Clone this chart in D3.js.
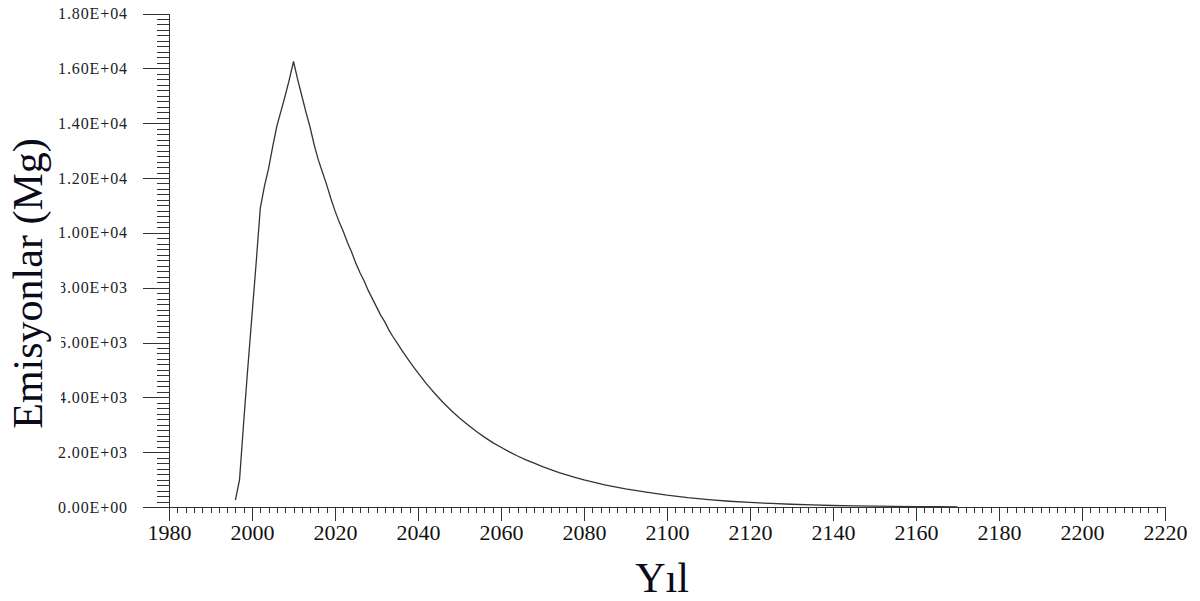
<!DOCTYPE html>
<html>
<head>
<meta charset="utf-8">
<script src="https://cdn.jsdelivr.net/npm/d3@7"></script>
<style>
  body { margin: 0; background: #fff; }
  svg { display: block; }
</style>
</head>
<body>
<div class="chart"></div>
<script>
const years = [
  1996, 1997, 1998, 1999, 2000, 2001, 2002, 2003, 2004, 2005, 2006, 2007, 2008, 2009,
  2010, 2011, 2012, 2013, 2014, 2015, 2016, 2017, 2018, 2019, 2020, 2021, 2022, 2023,
  2024, 2025, 2026, 2027, 2028, 2029, 2030, 2031, 2032, 2033, 2034, 2035, 2036, 2037,
  2038, 2039, 2040, 2042, 2044, 2046, 2048, 2050, 2052, 2054, 2056, 2058, 2060, 2062,
  2064, 2066, 2068, 2070, 2072, 2074, 2076, 2078, 2080, 2085, 2090, 2095, 2100, 2105,
  2110, 2115, 2120, 2125, 2130, 2135, 2140, 2145, 2150, 2155, 2160, 2165, 2170
];
const emissions = [
  250, 1000, 3100, 5100, 7000, 8900, 10900, 11700, 12350, 13150, 13900, 14450, 15000, 15600,
  16250, 15600, 15000, 14400, 13850, 13200, 12650, 12200, 11750, 11250, 10800, 10400, 10050, 9650,
  9300, 8900, 8550, 8250, 7900, 7600, 7300, 7000, 6750, 6450, 6200, 5980, 5740, 5520,
  5300, 5090, 4890, 4500, 4150, 3820, 3520, 3250, 3000, 2760, 2550, 2350, 2180, 2010,
  1860, 1720, 1600, 1470, 1360, 1250, 1160, 1070, 990, 810, 660, 540, 430, 340,
  270, 210, 165, 130, 100, 75, 55, 40, 30, 22, 16, 12, 8
];
const xTickValues = [1980, 2000, 2020, 2040, 2060, 2080, 2100, 2120, 2140, 2160, 2180, 2200, 2220];
const yTickValues = [0, 2000, 4000, 6000, 8000, 10000, 12000, 14000, 16000, 18000];
const yTickLabels = ['0.00E+00', '2.00E+03', '4.00E+03', '6.00E+03', '8.00E+03',
  '1.00E+04', '1.20E+04', '1.40E+04', '1.60E+04', '1.80E+04'];
const xLabel = 'Yıl';
const yLabel = 'Emisyonlar (Mg)';

const width = 1200;
const height = 601;
const plotLeft = 169;
const plotRight = 1165;
const plotTop = 13.5;
const plotBottom = 507;

const x = d3.scaleLinear().domain([1980, 2220]).range([plotLeft, plotRight]);
const y = d3.scaleLinear().domain([0, 18000]).range([plotBottom, plotTop]);

const svg = d3.select('.chart').append('svg')
  .attr('width', width)
  .attr('height', height);

// minor ticks first, majors on top
svg.append('g')
  .attr('transform', `translate(${plotLeft},0)`)
  .call(d3.axisLeft(y).tickValues(d3.range(0, 18001, 200)).tickSize(12).tickSizeOuter(0).tickFormat(''))
  .call(g => g.select('.domain').remove());

svg.append('g')
  .attr('transform', `translate(0,${plotBottom})`)
  .call(d3.axisBottom(x).tickValues(d3.range(1980, 2221, 2)).tickSize(6).tickSizeOuter(0).tickFormat(''))
  .call(g => g.select('.domain').remove());

const yAxis = svg.append('g')
  .attr('transform', `translate(${plotLeft},0)`)
  .call(d3.axisLeft(y).tickValues(yTickValues).tickSize(26).tickSizeOuter(0).tickPadding(15)
    .tickFormat((d, i) => yTickLabels[i]));

yAxis.selectAll('text')
  .attr('font-family', '"Liberation Serif", serif')
  .attr('font-size', 16)
  .attr('letter-spacing', 0.9)
  .attr('fill', '#222');

const xAxis = svg.append('g')
  .attr('transform', `translate(0,${plotBottom})`)
  .call(d3.axisBottom(x).tickValues(xTickValues).tickSize(14).tickSizeOuter(0).tickPadding(3)
    .tickFormat(d3.format('d')));

xAxis.selectAll('text')
  .attr('font-family', '"Liberation Serif", serif')
  .attr('font-size', 22)
  .attr('fill', '#111');

svg.selectAll('.tick line, .domain')
  .attr('stroke', '#333')
  .attr('shape-rendering', 'crispEdges');

const line = d3.line()
  .x((d, i) => x(years[i]))
  .y(d => y(d));

svg.append('path')
  .datum(emissions)
  .attr('fill', 'none')
  .attr('stroke', '#333')
  .attr('stroke-width', 1.3)
  .attr('d', line);

// title box hides the left edge of a few tick labels, as in the original
svg.append('rect')
  .attr('x', 0)
  .attr('y', 262)
  .attr('width', 61)
  .attr('height', 158)
  .attr('fill', '#fff');

svg.append('text')
  .attr('transform', 'translate(42,283.5) rotate(-90)')
  .attr('text-anchor', 'middle')
  .attr('font-family', '"Liberation Serif", serif')
  .attr('font-size', 42)
  .attr('fill', '#0a0a1a')
  .text(yLabel);

svg.append('text')
  .attr('x', 662)
  .attr('y', 592)
  .attr('text-anchor', 'middle')
  .attr('font-family', '"Liberation Serif", serif')
  .attr('font-size', 42)
  .attr('fill', '#0a0a1a')
  .text(xLabel);
</script>
</body>
</html>
